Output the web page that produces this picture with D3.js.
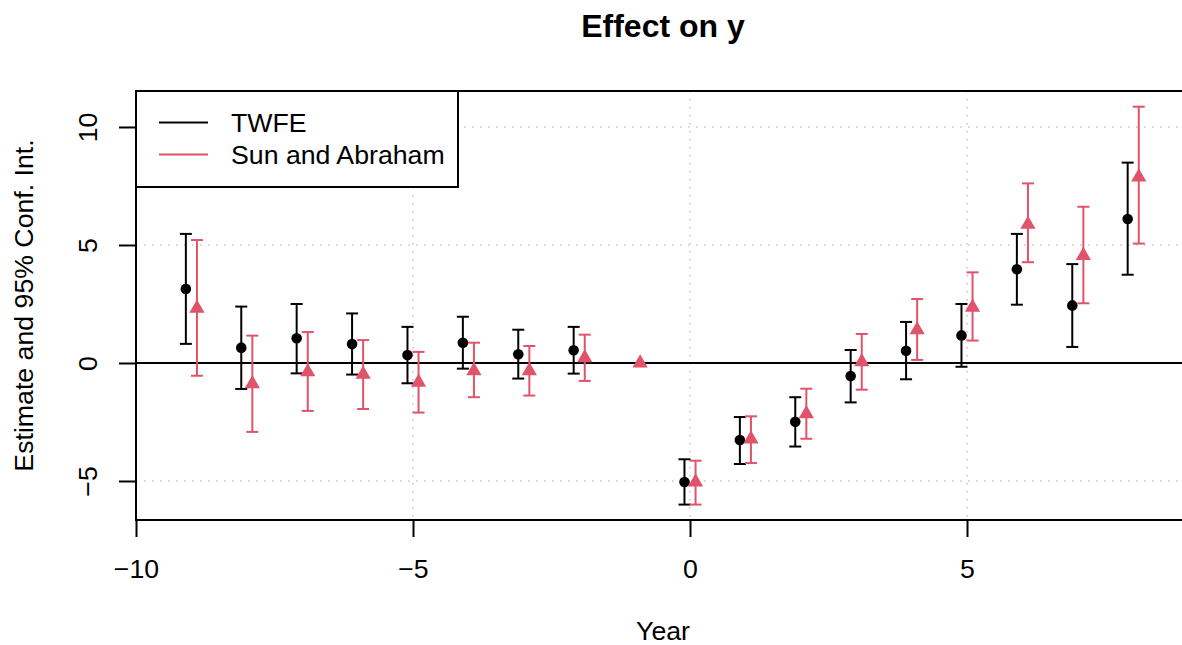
<!DOCTYPE html>
<html>
<head>
<meta charset="utf-8">
<script src="https://cdn.jsdelivr.net/npm/d3@7"></script>
<style>
  html, body { margin: 0; padding: 0; background: #ffffff; }
  svg { display: block; }
  text { font-family: "Liberation Sans", Arial, Helvetica, sans-serif; fill: #000; }
</style>
</head>
<body>
<svg id="chart" width="1182" height="645"></svg>
<script>
// ---- data ----
const years = [-9,-8,-7,-6,-5,-4,-3,-2,-1,0,1,2,3,4,5,6,7,8];

const twfeEst = [3.14, 0.65, 1.05, 0.80, 0.34, 0.86, 0.37, 0.54, null, -5.04, -3.26, -2.49, -0.55, 0.52, 1.17, 3.97, 2.44, 6.10];
const twfeLo  = [0.81, -1.10, -0.44, -0.49, -0.86, -0.24, -0.66, -0.45, null, -6.00, -4.28, -3.54, -1.67, -0.69, -0.16, 2.47, 0.68, 3.74];
const twfeHi  = [5.47, 2.39, 2.50, 2.10, 1.53, 1.96, 1.41, 1.53, null, -4.08, -2.29, -1.45, 0.55, 1.74, 2.50, 5.47, 4.19, 8.49];

const saEst = [2.32, -0.88, -0.38, -0.48, -0.82, -0.33, -0.33, 0.22, 0, -5.05, -3.22, -2.15, 0.05, 1.40, 2.36, 5.87, 4.55, 7.88];
const saLo  = [-0.54, -2.92, -2.03, -1.95, -2.10, -1.45, -1.38, -0.76, 0, -6.00, -4.24, -3.21, -1.13, 0.13, 0.95, 4.27, 2.53, 5.06];
const saHi  = [5.21, 1.16, 1.31, 0.97, 0.47, 0.86, 0.72, 1.20, 0, -4.14, -2.26, -1.09, 1.23, 2.71, 3.84, 7.61, 6.62, 10.86];

const seriesNames = ["TWFE", "Sun and Abraham"];
const seriesColors = ["#000000", "#DF536B"];
const xTicks = [-10, -5, 0, 5];
const yTicks = [-5, 0, 5, 10];
const titleText = "Effect on y";
const xLabel = "Year";
const yLabel = "Estimate and 95% Conf. Int.";

// ---- layout ----
const svg = d3.select("#chart");
const plot = { left: 136, right: 1190, top: 91, bottom: 520 };
const x = d3.scaleLinear().domain([-10, 9.025]).range([plot.left, plot.right]);
const y = d3.scaleLinear().domain([-6.653, 11.525]).range([plot.bottom, plot.top]);
const dodge = 0.1;
const fontSize = 26.7;

// clip
svg.append("defs").append("clipPath").attr("id", "clip")
  .append("rect").attr("x", plot.left).attr("y", plot.top)
  .attr("width", plot.right - plot.left).attr("height", plot.bottom - plot.top);

const g = svg.append("g").attr("clip-path", "url(#clip)");

// grid (dotted)
g.selectAll(".vgrid").data(xTicks).join("line")
  .attr("x1", d => x(d)).attr("x2", d => x(d))
  .attr("y1", plot.top).attr("y2", plot.bottom)
  .attr("stroke", "#c8c8c8").attr("stroke-width", 1.6)
  .attr("stroke-dasharray", "1.6,6.4");
g.selectAll(".hgrid").data(yTicks.filter(d => d !== 0)).join("line")
  .attr("x1", plot.left).attr("x2", plot.right)
  .attr("y1", d => y(d)).attr("y2", d => y(d))
  .attr("stroke", "#c8c8c8").attr("stroke-width", 1.6)
  .attr("stroke-dasharray", "1.6,6.4");

// zero line
g.append("line")
  .attr("x1", plot.left).attr("x2", plot.right)
  .attr("y1", y(0)).attr("y2", y(0))
  .attr("stroke", "#000").attr("stroke-width", 2);

// series
const series = [
  { est: twfeEst, lo: twfeLo, hi: twfeHi, off: -dodge, color: seriesColors[0], shape: "circle" },
  { est: saEst,   lo: saLo,   hi: saHi,   off:  dodge, color: seriesColors[1], shape: "triangle" }
];
const capHalf = 6;
series.forEach(s => {
  const data = years.map((yr, i) => ({ yr, est: s.est[i], lo: s.lo[i], hi: s.hi[i] }))
    .filter(d => d.est !== null);
  const sg = g.append("g");
  const withCI = data.filter(d => d.hi !== d.lo);
  sg.selectAll(".bar").data(withCI).join("line")
    .attr("x1", d => x(d.yr + s.off)).attr("x2", d => x(d.yr + s.off))
    .attr("y1", d => y(d.lo)).attr("y2", d => y(d.hi))
    .attr("stroke", s.color).attr("stroke-width", 2);
  ["lo", "hi"].forEach(k => {
    sg.selectAll(".cap" + k).data(withCI).join("line")
      .attr("x1", d => x(d.yr + s.off) - capHalf).attr("x2", d => x(d.yr + s.off) + capHalf)
      .attr("y1", d => y(d[k])).attr("y2", d => y(d[k]))
      .attr("stroke", s.color).attr("stroke-width", 2);
  });
  if (s.shape === "circle") {
    sg.selectAll(".pt").data(data).join("circle")
      .attr("cx", d => x(d.yr + s.off)).attr("cy", d => y(d.est))
      .attr("r", 5.3).attr("fill", s.color);
  } else {
    const r = 8.8, hx = r * Math.sqrt(3) / 2;
    sg.selectAll(".pt").data(data).join("path")
      .attr("d", d => {
        const cx = x(d.yr + s.off), cy = y(d.est);
        return `M${cx},${cy - r}L${cx + hx},${cy + r / 2}L${cx - hx},${cy + r / 2}Z`;
      })
      .attr("fill", s.color);
  }
});

// box
svg.append("rect")
  .attr("x", plot.left).attr("y", plot.top)
  .attr("width", plot.right - plot.left).attr("height", plot.bottom - plot.top)
  .attr("fill", "none").attr("stroke", "#000").attr("stroke-width", 2);

// x axis
const xAxis = d3.axisBottom(x).tickValues(xTicks).tickSize(17).tickPadding(22)
  .tickFormat(d => d < 0 ? "\u2212" + Math.abs(d) : String(d));
const xa = svg.append("g").attr("transform", `translate(0,${plot.bottom})`).call(xAxis);
xa.select(".domain").remove();
xa.selectAll(".tick line").attr("stroke", "#000").attr("stroke-width", 2);
xa.selectAll(".tick text").attr("font-size", fontSize)
  .attr("font-family", "Liberation Sans, Arial, sans-serif").attr("fill", "#000");

// y axis
const yAxis = d3.axisLeft(y).tickValues(yTicks).tickSize(17).tickPadding(0)
  .tickFormat(d => d < 0 ? "\u2212" + Math.abs(d) : String(d));
const ya = svg.append("g").attr("transform", `translate(${plot.left},0)`).call(yAxis);
ya.select(".domain").remove();
ya.selectAll(".tick line").attr("stroke", "#000").attr("stroke-width", 2);
ya.selectAll(".tick text")
  .attr("font-size", fontSize)
  .attr("font-family", "Liberation Sans, Arial, sans-serif").attr("fill", "#000")
  .attr("x", null).attr("dy", null)
  .attr("text-anchor", "middle")
  .attr("transform", `translate(${97 - plot.left},0) rotate(-90)`);

// titles
svg.append("text").attr("x", (plot.left + plot.right) / 2).attr("y", 37)
  .attr("text-anchor", "middle").attr("font-size", 32).attr("font-weight", "bold")
  .text(titleText);
svg.append("text").attr("x", (plot.left + plot.right) / 2).attr("y", 640)
  .attr("text-anchor", "middle").attr("font-size", fontSize).text(xLabel);
svg.append("text")
  .attr("transform", `translate(33,${(plot.top + plot.bottom) / 2}) rotate(-90)`)
  .attr("text-anchor", "middle").attr("font-size", fontSize).text(yLabel);

// legend
const leg = svg.append("g");
leg.append("rect").attr("x", plot.left).attr("y", plot.top)
  .attr("width", 458 - plot.left).attr("height", 187 - plot.top)
  .attr("fill", "#fff").attr("stroke", "#000").attr("stroke-width", 2);
const legY = [122.5, 154.5];
seriesNames.forEach((name, i) => {
  leg.append("line").attr("x1", 159).attr("x2", 208)
    .attr("y1", legY[i]).attr("y2", legY[i])
    .attr("stroke", seriesColors[i]).attr("stroke-width", 2);
  leg.append("text").attr("x", 231).attr("y", legY[i] + 9.5)
    .attr("font-size", fontSize).text(name);
});
</script>
</body>
</html>
